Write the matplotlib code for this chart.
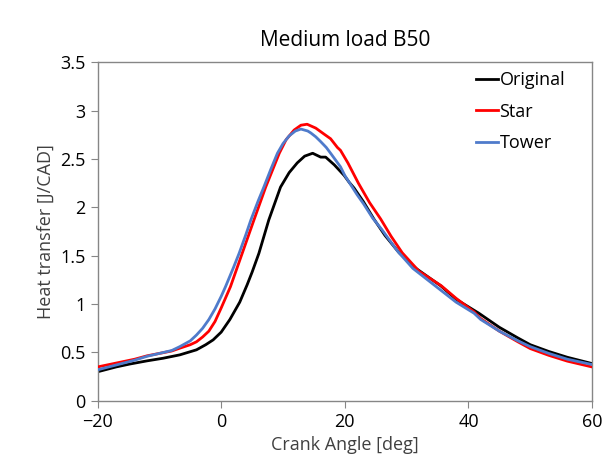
import matplotlib
matplotlib.use('Agg')
import matplotlib.pyplot as plt

plt.rcParams['font.family'] = ['Open Sans', 'DejaVu Sans']

# crank angle [deg] and heat transfer [J/CAD]
orig_x = [-20, -17, -14.8, -12, -9.4, -6.7, -4, -2.5, -1.3, 0, 1.4, 3.0, 4.2, 5, 6.1, 7.7, 9.6, 11, 12.3,
          13.5, 14.8, 16.1, 16.9, 18.3, 19.9, 20.7, 21.5, 23, 24.7, 26.5, 28.8, 31.5, 35.5, 38, 41.7,
          45, 48, 50, 53, 56, 60]
orig_y = [0.30, 0.35, 0.38, 0.413, 0.44, 0.475, 0.527, 0.58, 0.63, 0.71, 0.84, 1.02, 1.20, 1.33, 1.525, 1.87, 2.21, 2.36, 2.46,
          2.53, 2.56, 2.52, 2.52, 2.44, 2.33, 2.26, 2.20, 2.06, 1.88, 1.71, 1.53, 1.37, 1.19, 1.05, 0.905,
          0.76, 0.65, 0.58, 0.51, 0.45, 0.385]

star_x = [-20, -17, -14, -12, -10, -8, -6.7, -5, -4, -3, -2, -1, 0, 1.5, 3.4, 5.3, 7.2, 9.4, 10.5, 11.8,
          12.9, 13.9, 15.3, 16.6, 17.7, 18.8, 19.3, 20.5, 22.2, 24, 25.8, 27.5, 29.3, 32, 35.6, 38, 40.9,
          42, 45, 48, 50, 53, 56, 60]
star_y = [0.35, 0.39, 0.43, 0.465, 0.49, 0.515, 0.544, 0.58, 0.61, 0.66, 0.72, 0.82, 0.96, 1.18, 1.525, 1.87, 2.21, 2.56, 2.70, 2.80,
          2.85, 2.86, 2.82, 2.76, 2.71, 2.62, 2.59, 2.46, 2.25, 2.05, 1.88, 1.70, 1.53, 1.34, 1.19, 1.06, 0.92,
          0.85, 0.72, 0.61, 0.54, 0.47, 0.41, 0.35]

tower_x = [-20, -17, -14, -12, -10, -8, -6.7, -5, -4, -3, -2, -1, 0, 0.7, 2, 2.9, 4, 4.8, 6, 6.9, 8, 9.1,
           10, 11, 12, 12.9, 14, 14.5, 15.3, 16.1, 17, 17.7, 18.5, 19.3, 20, 21, 22, 23, 24.5, 26, 28.5,
           31, 35, 38, 40.9, 42, 45, 48, 50, 53, 56, 60]
tower_y = [0.32, 0.37, 0.42, 0.46, 0.49, 0.52, 0.56, 0.62, 0.68, 0.75, 0.84, 0.95, 1.08, 1.18, 1.38, 1.525, 1.72, 1.87, 2.07, 2.21, 2.39, 2.56,
           2.66, 2.74, 2.79, 2.81, 2.79, 2.77, 2.73, 2.68, 2.62, 2.56, 2.49, 2.42, 2.33, 2.23, 2.13, 2.04, 1.89, 1.77, 1.55,
           1.37, 1.17, 1.02, 0.906, 0.84, 0.72, 0.62, 0.56, 0.49, 0.43, 0.375]

fig = plt.figure(figsize=(6.06, 4.76), dpi=100)
ax = fig.add_axes([0.161, 0.158, 0.816, 0.711])

ax.plot(orig_x, orig_y, color='black', lw=2.0, label='Original', zorder=2)
ax.plot(star_x, star_y, color='#FF0000', lw=2.0, label='Star', zorder=3)
ax.plot(tower_x, tower_y, color='#4F7BCB', lw=2.0, label='Tower', zorder=4)

ax.set_xlim(-20, 60)
ax.set_ylim(0, 3.5)
ax.set_xticks([-20, 0, 20, 40, 60])
ax.set_yticks([0, 0.5, 1, 1.5, 2, 2.5, 3, 3.5])
ax.set_yticklabels(['0', '0.5', '1', '1.5', '2', '2.5', '3', '3.5'])
for s in ax.spines.values():
    s.set_color('#868686')
    s.set_linewidth(1.0)
ax.tick_params(direction='out', length=5, color='#868686', labelsize=13)

ax.set_xlabel('Crank Angle [deg]', fontsize=13, color='#404040')
ax.set_ylabel('Heat transfer [J/CAD]', fontsize=13, color='#404040')
ax.set_title('Medium load B50', fontsize=15, pad=12)

ax.legend(loc='upper right', bbox_to_anchor=(0.96, 0.995), borderaxespad=0, frameon=False,
          fontsize=13, handlelength=1.2, handletextpad=0.1, labelspacing=0.75)

fig.savefig('out.png', dpi=100)
